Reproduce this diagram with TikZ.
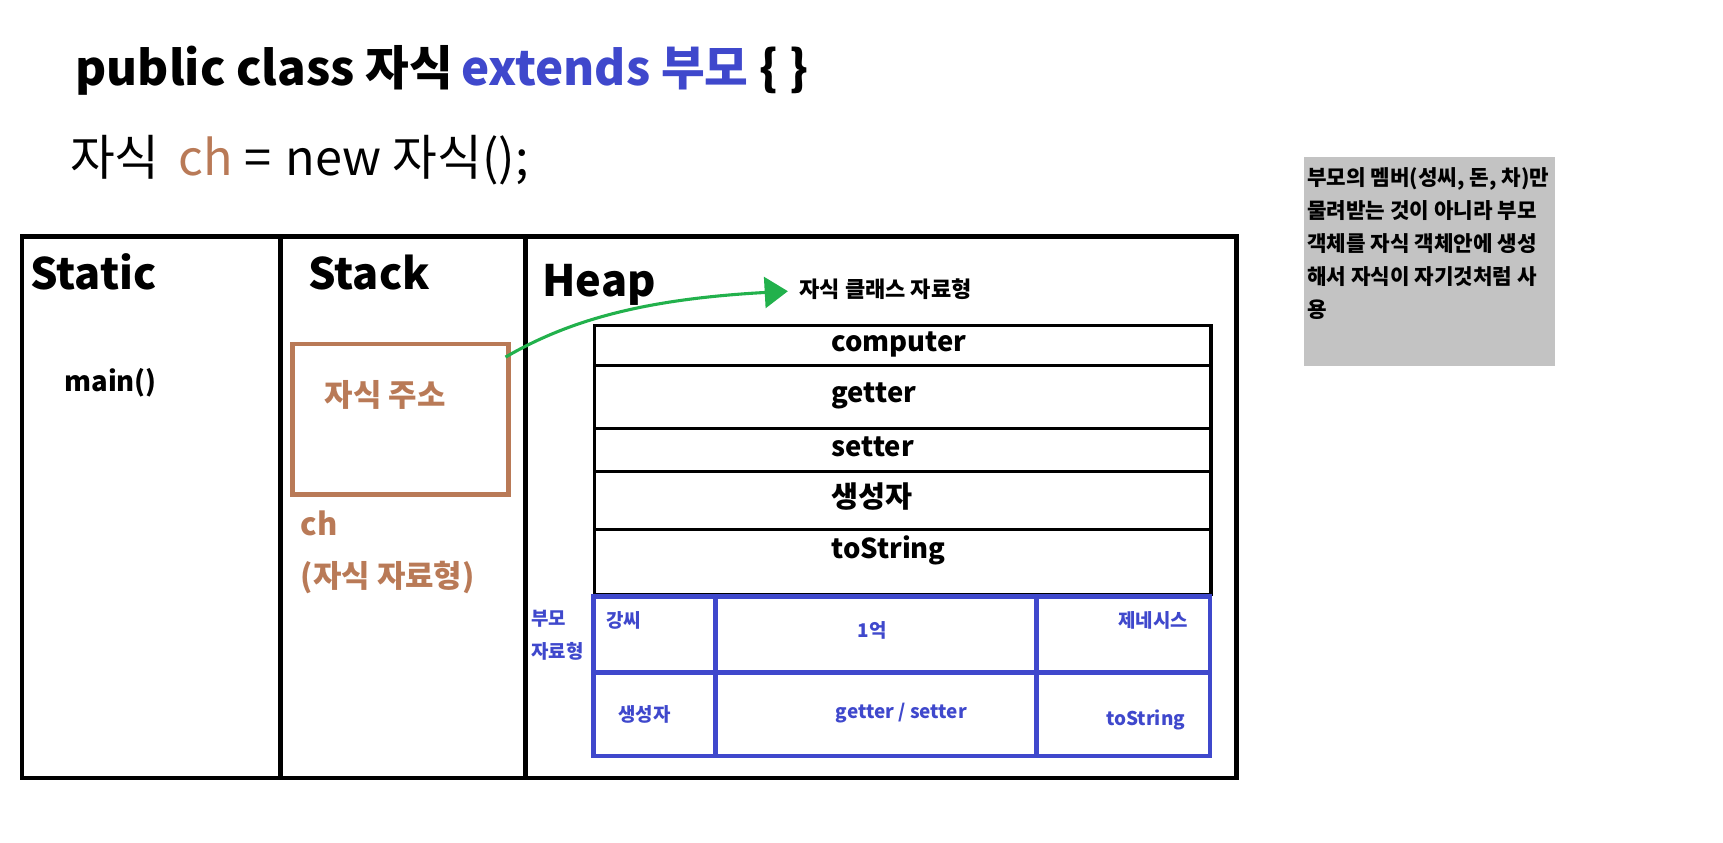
\documentclass[tikz,border=0pt]{standalone}
\usepackage{fontspec}
\setmainfont{Noto Sans CJK KR}
\usetikzlibrary{arrows.meta}
\definecolor{cbrown}{RGB}{185,122,87}
\definecolor{cblue}{RGB}{63,72,204}
\definecolor{cgreen}{RGB}{34,177,76}
\definecolor{cgray}{RGB}{195,195,195}
\begin{document}
\begin{tikzpicture}[
    lbl/.style={anchor=base west,inner sep=0pt},
    title/.style={lbl,font=\fontsize{11.2}{14}\selectfont\bfseries},
    cell/.style={lbl,font=\fontsize{7.1}{9}\selectfont\bfseries},
    scell/.style={lbl,text=cbrown,font=\fontsize{8}{9}\selectfont\bfseries},
    pcell/.style={lbl,text=cblue,font=\fontsize{4.9}{6}\selectfont\bfseries}]
      \useasboundingbox (0,0) rectangle (15.68,-7.67);%

      % code lines
      \node[lbl,font=\fontsize{12.3}{14}\selectfont\bfseries] (L1) at (0.68,-0.78)
      {public class 자식\hspace{2pt}\textcolor{cblue}{extends 부모} \{ \}};%
      \node[lbl,font=\fontsize{12.6}{14}\selectfont] (L2) at (0.63,-1.60)
      {자식\hspace{5pt}\textcolor{cbrown}{ch} = \hspace{1pt}new 자식();};%

      % memory areas
      \draw[line width=1.2pt] (0.20,-2.15) rectangle (11.25,-7.08);%
      \draw[line width=1.2pt] (2.55,-2.15) -- (2.55,-7.08);%
      \draw[line width=1.2pt] (4.78,-2.15) -- (4.78,-7.08);%
      \node[title] (ST) at (0.27,-2.63) {Static};%
      \node[title] (SK) at (2.80,-2.63) {Stack};%
      \node[title] (HP) at (4.93,-2.70) {Heap};%
      \node[cell] (MN) at (0.58,-3.56) {main()};%

      % stack
      \node[draw=cbrown,line width=1.2pt,minimum width=1.97cm,minimum height=1.37cm,
      inner sep=0pt] (A) at (3.645,-3.815) {};%
      \node[scell] (AT) at (2.95,-3.70) {자식 주소};%
      \node[scell] (CH) at (2.73,-4.87) {ch};%
      \node[scell] (CT) at (2.73,-5.35) {(자식 자료형)};%

      % heap
      \node[lbl,font=\fontsize{5.7}{7}\selectfont\bfseries] (CL) at (7.27,-2.71)
      {자식 클래스 자료형};%
      \coordinate (AS) at (4.60,-3.25);%
      \coordinate (CE) at (7.17,-2.65);%
      \draw[cgreen,line width=0.8pt,-{Triangle[width=8pt,length=6pt]}] (AS)
      .. controls (5.20,-2.90) and (5.90,-2.72) .. (CE);%

      \draw[line width=0.8pt] (5.41,-2.96) rectangle (11.02,-5.41);%
      \draw[line width=0.8pt] (5.41,-3.33) -- (11.02,-3.33);%
      \draw[line width=0.8pt] (5.41,-3.90) -- (11.02,-3.90);%
      \draw[line width=0.8pt] (5.41,-4.29) -- (11.02,-4.29);%
      \draw[line width=0.8pt] (5.41,-4.82) -- (11.02,-4.82);%
      \node[cell] (R1) at (7.56,-3.20) {computer};%
      \node[cell] (R2) at (7.56,-3.66) {getter};%
      \node[cell] (R3) at (7.56,-4.15) {setter};%
      \node[cell,font=\fontsize{7.6}{9}\selectfont\bfseries] (R4) at (7.56,-4.62) {생성자};%
      \node[cell] (R5) at (7.56,-5.08) {toString};%

      % parent part
      \draw[cblue,line width=1.2pt] (5.40,-5.43) rectangle (11.01,-6.88);%
      \draw[cblue,line width=1.2pt] (5.40,-6.12) -- (11.01,-6.12);%
      \draw[cblue,line width=1.2pt] (6.51,-5.43) -- (6.51,-6.88);%
      \draw[cblue,line width=1.2pt] (9.43,-5.43) -- (9.43,-6.88);%
      \node[pcell] (P0) at (4.83,-5.69) {부모};%
      \node[pcell] (P0b) at (4.83,-5.99) {자료형};%
      \node[pcell] (P1) at (5.51,-5.71) {강씨};%
      \node[pcell] (P2) at (7.80,-5.80) {1억};%
      \node[pcell] (P3) at (10.17,-5.71) {제네시스};%
      \node[pcell] (P4) at (5.62,-6.57) {생성자};%
      \node[pcell] (P5) at (7.60,-6.54) {getter / setter};%
      \node[pcell] (P6) at (10.06,-6.60) {toString};%

      % note
      \fill[cgray] (11.87,-1.43) rectangle (14.15,-3.33);%
      \node[anchor=north west,inner sep=0pt,align=left,
      font=\fontsize{5.5}{8.5}\selectfont\bfseries] (N) at (11.89,-1.52)
      {부모의 멤버(성씨, 돈, 차)만\\물려받는 것이 아니라 부모\\객체를 자식 객체안에 생성\\해서 자식이 자기것처럼 사\\용};%
    \end{tikzpicture}
\end{document}
